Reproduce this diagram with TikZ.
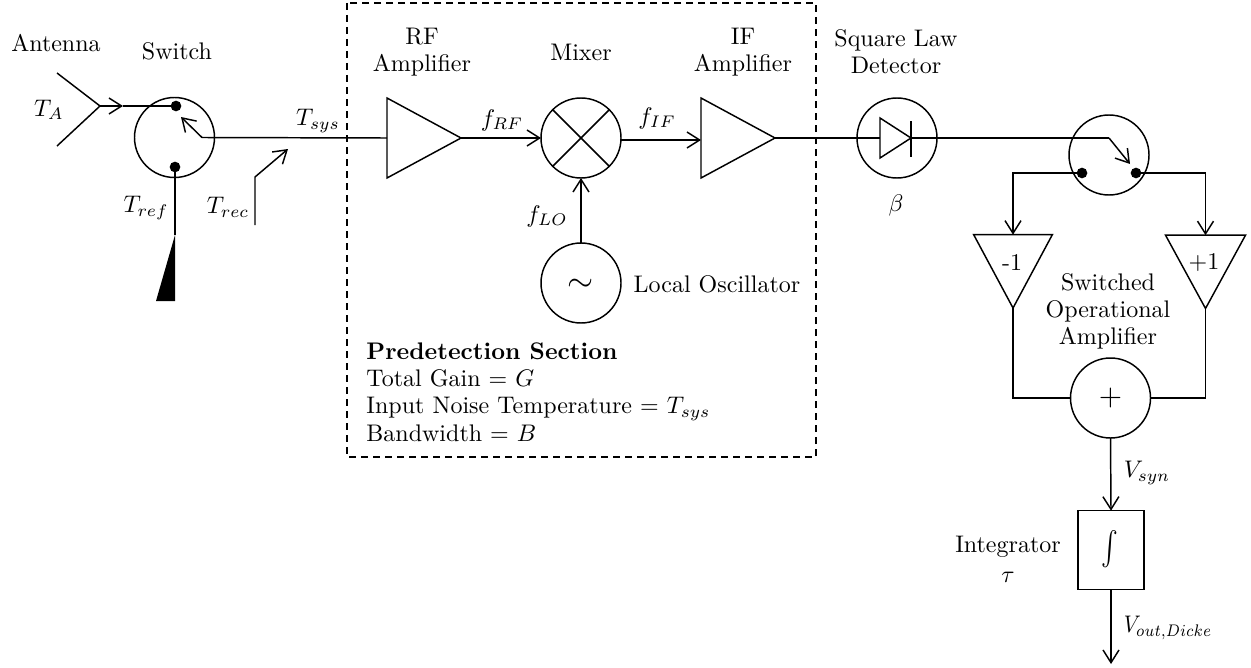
\documentclass[tikz,border=0pt]{standalone}
\usepackage{amsmath}
\usetikzlibrary{arrows.meta,shapes.geometric}
\tikzset{
  wire/.style={line width=1.1pt},
  arrowwire/.style={wire,-{Straight Barb[length=9.5pt,width=12pt,line width=1.1pt]}},
  lbl/.style={inner sep=0pt,transform shape,xscale=1.8,yscale=-1.8,align=center,font=\fontsize{10}{11.2}\selectfont},
  block/.style={draw,line width=1.1pt,circle,minimum size=60pt,inner sep=0pt,outer sep=0pt},
  amp/.style={draw,line width=1.1pt,isosceles triangle,isosceles triangle stretches,inner sep=0pt,outer sep=0pt,minimum width=60pt,minimum height=55.5pt},
  ampdown/.style={amp,shape border rotate=270,minimum width=59pt,minimum height=55pt},
  contact/.style={circle,fill=black,minimum size=8pt,inner sep=0pt,outer sep=0pt},
}
\begin{document}
\begin{tikzpicture}[x=0.75pt,y=0.75pt,yscale=-1,xscale=1]
\useasboundingbox (0,0) rectangle (1251,667);

% Predetection box
\draw [line width=1.1pt,dash pattern=on 5.5pt off 3.5pt] (347,3) rectangle (816,457);

% Blocks
\node [block] (inswitch) at (174.5,137.5) {};
\node [block] (mixer) at (581,138) {};
\node [block] (oscillator) at (581,283) {};
\node [block] (detector) at (897,138) {};
\node [block] (outswitch) at (1109,155) {};
\node [block] (summer) at (1110.5,398) {};
\node [draw,line width=1.1pt,minimum width=49.5pt,minimum height=59pt,inner sep=0pt,outer sep=0pt] (integrator) at (1111,550) {};
\node [amp,anchor=apex] (rfamp) at (461,138) {};
\node [amp,anchor=apex] (ifamp) at (775,138) {};
\node [ampdown,anchor=apex] (negamp) at (1013,308) {};
\node [ampdown,anchor=apex,minimum width=60pt] (posamp) at (1205.5,308.5) {};
\node [amp,anchor=apex,minimum width=30pt,minimum height=23.25pt] (diode) at (911,138) {};

% Contacts
\node [contact] (inupper) at (176,106) {};
\node [contact] (inlower) at (175,167) {};
\node [contact] (outleft) at (1082,173) {};
\node [contact] (outright) at (1136,173) {};

% Free ends
\coordinate (antapex) at (100,106);
\coordinate (antup) at (57,73);
\coordinate (antdown) at (57,146);
\coordinate (antmid) at (123,106);
\coordinate (inarm) at (202,137.5);
\coordinate (inarmtip) at (181,117);
\coordinate (recstart) at (255,225);
\coordinate (recbend) at (255,177);
\coordinate (rectip) at (288,149);
\coordinate (wedgetop) at (175,235);
\coordinate (bartop) at (911,121);
\coordinate (barbottom) at (911,157);
\coordinate (outarm) at (1109,138);
\coordinate (outarmtip) at (1130,164);
\coordinate (outend) at (1111,664);

% Antenna and reference load
\draw [wire] (antup) -- (antapex) -- (antdown);
\draw [arrowwire] (antapex) -- (antmid);
\draw [wire] (antmid) -- (inupper);
\draw [wire] (inlower) -- (wedgetop);
\fill (wedgetop) -- (175,301) -- (156,301) -- cycle;

% Front end
\draw [arrowwire] (inarm) -- (inarmtip);
\draw [wire] (inarm) -- (rfamp.lower side);
\draw [arrowwire] (recstart) -- (recbend) -- (rectip);
\draw [arrowwire] (rfamp.apex) -- (mixer.west);
\draw [arrowwire] (mixer.east |- 0,140) -- (ifamp.lower side |- 0,140);
\draw [arrowwire] (oscillator.north) -- (mixer.south);
\draw [wire] (mixer.45) -- (mixer.225);
\draw [wire] (mixer.135) -- (mixer.315);

% Detector
\draw [wire] (ifamp.apex) -- (diode.lower side);
\draw [wire] (bartop) -- (barbottom);
\draw [wire] (diode.apex) -- (outarm);
\draw [arrowwire] (outarm) -- (outarmtip);

% Switched amplifier
\draw [arrowwire] (outleft) -| (negamp.lower side);
\draw [arrowwire] (outright) -| (posamp.lower side);
\draw [wire] (negamp.apex) |- (summer.west);
\draw [wire] (posamp.apex) |- (summer.east);
\draw [arrowwire] (summer.south) -- (integrator.north);
\draw [arrowwire] (integrator.south) -- (outend);

% Text Node
\draw (56,43) node (antennatext) [lbl] {Antenna};
\draw (177,51) node (switchtext) [lbl] {Switch};
\draw (49,110) node (tatext) [lbl] {$T_A$};
\draw (146,208) node (treftext) [lbl] {$T_{ref}$};
\draw (228,207) node (trectext) [lbl] {$T_{rec}$};
\draw (318,121) node (tsystext) [lbl] {$T_{sys}$};
\draw (422,52) node (rftext) [lbl] {RF\\Amplifier};
\draw (581,52) node (mixertext) [lbl] {Mixer};
\draw (743,52) node (iftext) [lbl] {IF\\Amplifier};
\draw (896,52) node (detectortext) [lbl] {Square Law\\Detector};
\draw (502,120) node (frftext) [lbl] {$f_{RF}$};
\draw (657,118) node (fiftext) [lbl] {$f_{IF}$};
\draw (547,216) node (flotext) [lbl] {$f_{LO}$};
\draw (717,284) node (localtext) [lbl] {Local Oscillator};
\draw (896,205) node (betatext) [lbl] {$\beta$};
\draw (366,342) node (sectiontext) [lbl,anchor=north west,align=left,font=\fontsize{10}{11.4}\selectfont] {\textbf{Predetection Section}\\Total Gain = $G$\\Input Noise Temperature = $T_{sys}$\\Bandwidth = $B$};
\draw (1108,311) node (optext) [lbl] {Switched\\Operational\\Amplifier};
\draw (1008,559) node (integtext) [lbl,font=\fontsize{10}{12.5}\selectfont] {Integrator\\$\tau$};
\draw (1147,473) node (vsyntext) [lbl] {$V_{syn}$};
\draw (1168,628) node (vouttext) [lbl,xscale=0.88] {$V_{out,Dicke}$};
\draw (1012,263) node (negtext) [lbl] {-1};
\draw (1204,263) node (postext) [lbl] {+1};
\draw (581,285) node (simtext) [lbl,scale=1.4] {$\sim$};
\draw (1110.5,398) node (plustext) [lbl,scale=1.25] {$+$};
\draw (1110,549) node (inttext) [lbl,xscale=0.75,scale=1.4] {$\int$};

\end{tikzpicture}
\end{document}
